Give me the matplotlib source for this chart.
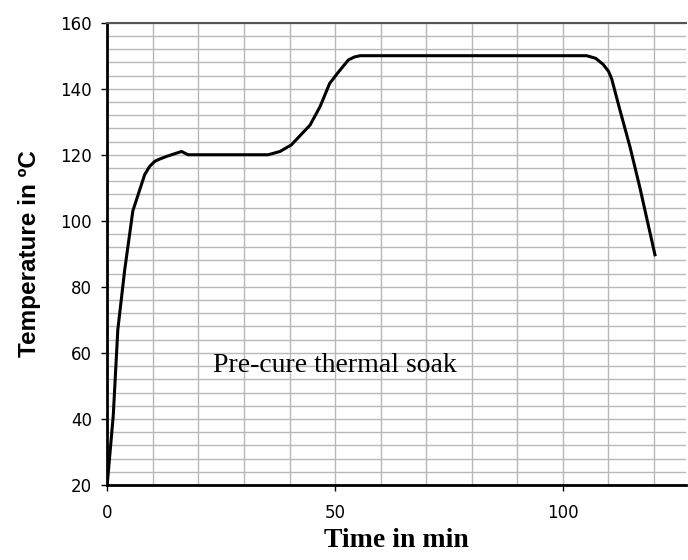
import numpy as np
import matplotlib.pyplot as plt
from matplotlib.ticker import MultipleLocator

# cure profile
timeMin = [0, 1.3, 2.3, 3.8, 5.6, 8.2, 9.3, 10.4, 11.5, 13, 16.3, 17.7, 25, 35.3,
           37.9, 40.4, 44.5, 46.7, 48.8, 50.7, 52.9, 54.2, 55.5, 80, 105.2, 107.2,
           108.8, 110.0, 110.7, 112.5, 114.7, 116.9, 120.2]
tempC = [20.5, 41, 67, 85, 103, 114, 116.5, 118, 118.7, 119.5, 121, 120, 120, 120,
         121, 123, 129, 134.6, 141.6, 145, 148.7, 149.6, 150, 150, 150, 149.2,
         147.4, 145.3, 143, 133.6, 122.5, 110, 89.7]
xTicks = [0, 50, 100]
yTicks = [20, 40, 60, 80, 100, 120, 140, 160]

fig = plt.figure(figsize=(6.88, 5.6), dpi=100)
ax = fig.add_axes([0.156, 0.134, 0.841, 0.8255])

ax.plot(timeMin, tempC, color='black', lw=2.2, solid_joinstyle='round', zorder=3)

ax.set_xlim(0, 127)
ax.set_ylim(20, 160)
ax.set_xticks(xTicks)
ax.set_yticks(yTicks)
ax.xaxis.set_minor_locator(MultipleLocator(10))
ax.yaxis.set_minor_locator(MultipleLocator(4))
ax.grid(True, which='both', color='#b8b8b8', lw=1.0)
ax.tick_params(which='minor', length=0)
ax.tick_params(which='major', length=4, width=1, labelsize=12)
ax.tick_params(axis='x', pad=10)
ax.tick_params(axis='y', pad=7)

ax.spines['right'].set_visible(False)
ax.spines['top'].set_color('#555555')
ax.spines['top'].set_linewidth(1.5)
ax.spines['left'].set_linewidth(2)
ax.spines['bottom'].set_linewidth(2)

ax.text(23.2, 54.2, 'Pre-cure thermal soak', family='Liberation Serif',
        fontsize=20, va='baseline', ha='left')
ax.set_xlabel('Time in min', family='Liberation Serif', fontweight='bold',
              fontsize=20, labelpad=4)
ax.set_ylabel('Temperature in ºC', family='Liberation Sans', fontweight='bold',
              fontsize=17.5, labelpad=14)

fig.savefig('out.png', dpi=100)
